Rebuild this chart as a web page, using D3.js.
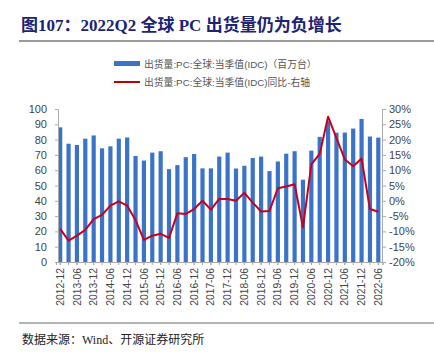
<!DOCTYPE html>
<html><head><meta charset="utf-8">
<script src="https://cdn.jsdelivr.net/npm/d3@7/dist/d3.min.js"></script>
<style>body{margin:0;background:#fff}svg{display:block}</style>
</head><body>
<svg id="c" width="434" height="356"></svg>
<script>
const quarters = ["2012-12","2013-03","2013-06","2013-09","2013-12","2014-03","2014-06","2014-09","2014-12","2015-03","2015-06","2015-09","2015-12","2016-03","2016-06","2016-09","2016-12","2017-03","2017-06","2017-09","2017-12","2018-03","2018-06","2018-09","2018-12","2019-03","2019-06","2019-09","2019-12","2020-03","2020-06","2020-09","2020-12","2021-03","2021-06","2021-09","2021-12","2022-03","2022-06"];
const shipments = [88,77.3,76.5,80.6,82.7,74.3,75.6,80.6,81.4,69.3,66.3,71.5,72.4,60.7,63.3,68.5,70.6,61.2,61.2,68.9,71.5,61.1,62.9,68,68.9,59.4,65.7,70.8,72.4,53.8,72.8,81.8,92,84.5,84.6,87.2,93.5,82,81.3];
const yoy = [-9.2,-13,-11.4,-9.5,-6,-4.6,-1.6,-0.2,-1.6,-6.3,-12.8,-11.4,-10.8,-12.1,-4.1,-4.3,-2.7,0,-2.9,0.6,0.6,0,2.6,-0.6,-3.5,-3.3,4.1,4.7,5.4,-8.7,11.9,15.3,27.5,20.5,13.5,11.3,13.8,-2.7,-3.6];
const leftTicks = [0,10,20,30,40,50,60,70,80,90,100];
const rightTicks = [-20,-15,-10,-5,0,5,10,15,20,25,30];
const legendLabels = ["出货量:PC:全球:当季值(IDC)（百万台）","出货量:PC:全球:当季值(IDC)同比-右轴"];

const svg = d3.select("#c");
const plotTop = 109, plotBottom = 262, axL = 58, axR = 382;
const x = d3.scaleBand().domain(quarters).range([56, 382.5]).paddingInner(0.5).paddingOuter(0.25);
const yL = d3.scaleLinear().domain([0,100]).range([plotBottom, plotTop]);
const yR = d3.scaleLinear().domain([-20,30]).range([plotBottom, plotTop]);

// title
svg.append("text").attr("x",21).attr("y",31)
  .attr("font-family","'Liberation Serif','Noto Sans CJK SC',serif").attr("font-weight","bold")
  .attr("font-size",17).attr("fill","#1c2374")
  .text("图107：2022Q2 全球 PC 出货量仍为负增长");
svg.append("line").attr("x1",19).attr("x2",434).attr("y1",41).attr("y2",41).attr("stroke","#7a7a7a").attr("stroke-width",1.5);
svg.append("line").attr("x1",19).attr("x2",434).attr("y1",323).attr("y2",323).attr("stroke","#6a6a6a").attr("stroke-width",1.2);
svg.append("text").attr("x",22).attr("y",344)
  .attr("font-family","'Liberation Serif','Noto Sans CJK SC',serif").attr("font-size",12).attr("fill","#222")
  .text("数据来源：Wind、开源证券研究所");

// legend
const lg = svg.append("g").attr("font-family","'Liberation Sans','Noto Sans CJK SC',sans-serif").attr("font-size",9.8).attr("fill","#555");
lg.append("rect").attr("x",114).attr("y",61).attr("width",26).attr("height",5).attr("fill","#3a73c8");
lg.append("text").attr("x",144).attr("y",67.5).text(legendLabels[0]);
lg.append("line").attr("x1",114).attr("x2",140).attr("y1",82).attr("y2",82).attr("stroke","#c00000").attr("stroke-width",2);
lg.append("text").attr("x",144).attr("y",85.5).text(legendLabels[1]);

// bars
svg.append("g").selectAll("rect").data(quarters).join("rect")
  .attr("x",d=>x(d)).attr("width",x.bandwidth())
  .attr("y",(d,i)=>yL(shipments[i])).attr("height",(d,i)=>plotBottom-yL(shipments[i]))
  .attr("fill","#3a73c8");

// line
const line = d3.line().x((d,i)=>x(quarters[i])+x.bandwidth()/2).y(d=>yR(d));
svg.append("path").datum(yoy).attr("d",line).attr("fill","none").attr("stroke","#c8001e").attr("stroke-width",2).attr("stroke-linejoin","round");

// axes
const fam = "'Liberation Sans',Arial,sans-serif";
const gL = svg.append("g").attr("transform",`translate(${axL},0)`)
  .call(d3.axisLeft(yL).tickValues(leftTicks).tickSize(3).tickPadding(8).tickFormat(d3.format("d")));
const gR = svg.append("g").attr("transform",`translate(${axR},0)`)
  .call(d3.axisRight(yR).tickValues(rightTicks).tickSize(4).tickPadding(3).tickFormat(d=>d+"%"));
[gL,gR].forEach(g=>{
  g.select(".domain").attr("stroke","#aaa");
  g.selectAll(".tick line").attr("stroke","#aaa");
  g.selectAll("text").attr("font-family",fam).attr("font-size",11).attr("fill","#444");
});
// minor ticks at every quarter
svg.append("g").attr("transform",`translate(0,${plotBottom})`)
  .call(d3.axisBottom(x).tickSize(3).tickFormat(""))
  .call(g=>{g.select(".domain").attr("stroke","#aaa");g.selectAll(".tick line").attr("stroke","#aaa");});
const gX = svg.append("g").attr("transform",`translate(0,${plotBottom})`)
  .call(d3.axisBottom(x).tickValues(quarters.filter((d,i)=>i%2===0)).tickSize(3).tickPadding(3));
gX.select(".domain").attr("stroke","#aaa");
gX.selectAll(".tick line").attr("stroke","#aaa");
gX.selectAll("text").attr("font-family",fam).attr("font-size",10.3).attr("fill","#444")
  .attr("transform","rotate(-90)").attr("text-anchor","end").attr("dy","0.35em").attr("x",-6).attr("y",0);
</script>
</body></html>
